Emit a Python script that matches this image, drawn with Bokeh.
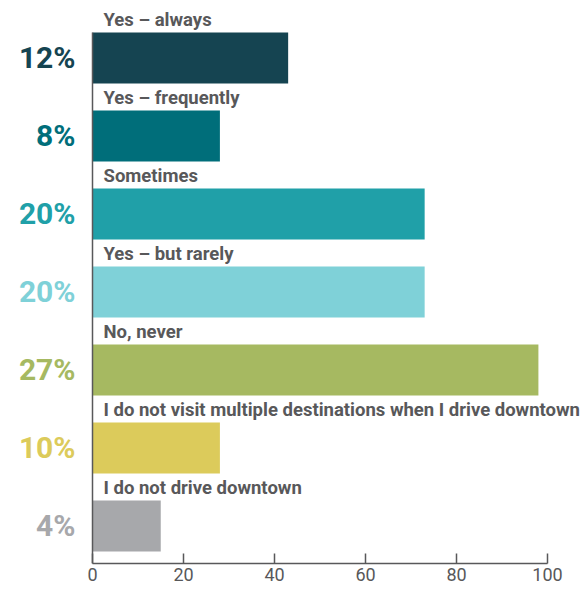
from bokeh.plotting import figure
from bokeh.models import ColumnDataSource, LabelSet, Range1d, LinearAxis, FixedTicker
from bokeh.core.properties import field, value
from bokeh.embed import file_html
from bokeh.resources import INLINE

categories = [
    "Yes – always",
    "Yes – frequently",
    "Sometimes",
    "Yes – but rarely",
    "No, never",
    "I do not visit multiple destinations when I drive downtown",
    "I do not drive downtown",
]
percent_labels = ["12%", "8%", "20%", "20%", "27%", "10%", "4%"]
bar_values = [43, 28, 73, 73, 98, 28, 15]
bar_colors = ["#154451", "#006e7a", "#20a0a8", "#7fd1d8", "#a6b961", "#dccb5b", "#a7a8ab"]
x_ticks = [0, 20, 40, 60, 80, 100]

n = len(categories)
positions = [n - 1 - i for i in range(n)]
bar_h = 0.654
label_y = [pp + bar_h / 2 + 0.077 for pp in positions]

src = ColumnDataSource(dict(
    pos=positions, value=bar_values, color=bar_colors,
    cat=categories, pct=percent_labels, label_y=label_y,
    zero=[0] * n,
))

FONT = "Roboto"
GREY = "#58585a"

y_lo = -bar_h / 2 - 0.154
y_top_bar = (n - 1) + bar_h / 2

p = figure(width=584, height=589, output_backend="svg", toolbar_location=None,
           x_range=Range1d(-20.22, 108.13), y_range=Range1d(y_lo, y_top_bar + 0.41),
           y_axis_location=None,
           min_border_left=0, min_border_right=0, min_border_top=0, min_border_bottom=26)

p.hbar(y="pos", left="zero", right="value", height=bar_h, color="color", line_color=None, source=src)

cat_labels = LabelSet(x="zero", y="label_y", text="cat", source=src, x_offset=11,
                      text_font=value(FONT), text_font_size="18.5px", text_font_style="bold",
                      text_color=GREY, text_baseline="alphabetic", text_align="left")
pct_labels = LabelSet(x="zero", y="pos", text="pct", source=src, x_offset=-17,
                      text_font=value(FONT), text_font_size="30px", text_font_style="bold",
                      text_color=field("color"), text_baseline="middle", text_align="right")
p.add_layout(cat_labels)
p.add_layout(pct_labels)

p.xgrid.grid_line_color = None
p.ygrid.grid_line_color = None
p.outline_line_color = None

xa = p.xaxis[0]
xa.ticker = FixedTicker(ticks=x_ticks)
xa.bounds = (0, 100)
xa.major_tick_in = 10
xa.major_tick_out = 0
xa.minor_tick_line_color = None
xa.axis_line_color = GREY
xa.axis_line_width = 1.5
xa.major_tick_line_color = GREY
xa.major_tick_line_width = 1.5
xa.major_label_text_font = FONT
xa.major_label_text_font_size = "18px"
xa.major_label_text_color = GREY
xa.major_label_standoff = 4

ya = LinearAxis(fixed_location=0, bounds=(y_lo, y_top_bar),
                ticker=FixedTicker(ticks=[]),
                major_label_text_font_size="0px",
                major_tick_line_color=None, minor_tick_line_color=None,
                axis_line_color=GREY, axis_line_width=1.5)
p.add_layout(ya, "left")

open("out.html", "w").write(file_html(p, INLINE))
